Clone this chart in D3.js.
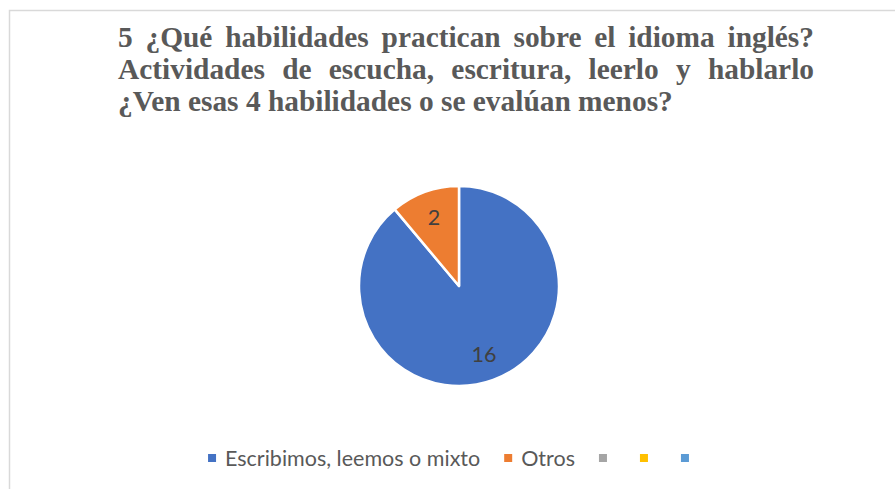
<!DOCTYPE html>
<html>
<head>
<meta charset="utf-8">
<script src="https://cdn.jsdelivr.net/npm/d3@7"></script>
<style>
  html, body { margin: 0; padding: 0; background: #fff; }
  svg { display: block; }
</style>
</head>
<body>
<svg id="chart" width="895" height="489"></svg>
<script>
  // chart data
  var titleLines = [
    "5 ¿Qué habilidades practican sobre el idioma inglés?",
    "Actividades de escucha, escritura, leerlo y hablarlo",
    "¿Ven esas 4 habilidades o se evalúan menos?"
  ];
  var categories = ["Escribimos, leemos o mixto", "Otros", "", "", ""];
  var values = [16, 2, 0, 0, 0];
  var colors = ["#4472C4", "#ED7D31", "#A5A5A5", "#FFC000", "#5B9BD5"];

  var svg = d3.select("#chart"),
      width = +svg.attr("width"),
      height = +svg.attr("height");

  // chart border (runs off the right and bottom)
  svg.append("rect")
      .attr("x", 9.5)
      .attr("y", 10.5)
      .attr("width", width + 20)
      .attr("height", height + 20)
      .attr("fill", "none")
      .attr("stroke", "#D9D9D9")
      .attr("stroke-width", 1.5);

  // title, justified like the source (last line left aligned)
  var titleLeft = 118, titleRight = 814, lastLineRight = 673, titleTop = 47, lineGap = 32;
  var title = svg.append("g")
      .attr("font-family", "'Liberation Serif', 'Times New Roman', serif")
      .attr("font-weight", "bold")
      .attr("font-size", 25)
      .attr("fill", "#595959");

  // size the serif so the unjustified last line has the source's width
  var probe = title.append("text").text(titleLines[titleLines.length - 1]);
  var fs = 25 * (lastLineRight - titleLeft) / probe.node().getComputedTextLength();
  probe.remove();
  title.attr("font-size", fs);

  titleLines.forEach(function (line, i) {
    var words = line.split(" ");
    var y = titleTop + i * lineGap;
    var nodes = words.map(function (w) {
      return title.append("text").attr("y", y).text(w);
    });
    var widths = nodes.map(function (n) { return n.node().getComputedTextLength(); });
    var total = d3.sum(widths);
    var space = fs * 0.25;
    if (i < titleLines.length - 1) {
      space = (titleRight - titleLeft - total) / (words.length - 1);
    }
    var x = titleLeft;
    nodes.forEach(function (n, j) {
      n.attr("x", x);
      x += widths[j] + space;
    });
  });

  // pie
  var cx = 459, cy = 286, radius = 100;
  var pie = d3.pie().sort(null).value(function (d) { return d.value; });
  var arc = d3.arc().innerRadius(0).outerRadius(radius);
  var labelArc = d3.arc().innerRadius(radius * 0.73).outerRadius(radius * 0.73);

  var data = categories.map(function (c, i) {
    return {name: c, value: values[i], color: colors[i]};
  });
  var arcs = pie(data).filter(function (d) { return d.data.value > 0; });

  var g = svg.append("g").attr("transform", "translate(" + cx + "," + cy + ")");

  g.selectAll(".slice")
      .data(arcs)
    .enter().append("path")
      .attr("class", "slice")
      .attr("d", arc)
      .attr("fill", function (d) { return d.data.color; })
      .attr("stroke", "#fff")
      .attr("stroke-width", 2.5)
      .attr("stroke-linejoin", "round");

  g.selectAll(".lbl")
      .data(arcs)
    .enter().append("text")
      .attr("class", "lbl")
      .attr("transform", function (d) { return "translate(" + labelArc.centroid(d) + ")"; })
      .attr("text-anchor", "middle")
      .attr("dy", "0.35em")
      .attr("font-family", "Lato, 'Open Sans', sans-serif")
      .attr("font-size", 21.5)
      .attr("fill", "#404040")
      .text(function (d) { return d.data.value; });

  // legend
  var legendY = 458, markerSize = 8, markerGap = 9, entryGap = 24;
  var legend = svg.append("g")
      .attr("font-family", "Lato, 'Open Sans', sans-serif")
      .attr("font-size", 21.5)
      .attr("fill", "#595959");

  var items = data.map(function (d) {
    var it = legend.append("g");
    it.append("rect")
        .attr("width", markerSize)
        .attr("height", markerSize)
        .attr("y", legendY - markerSize / 2)
        .attr("fill", d.color);
    var t = it.append("text")
        .attr("x", markerSize + markerGap)
        .attr("y", legendY)
        .attr("dy", "0.35em")
        .text(d.name);
    return {g: it, w: markerSize + markerGap + t.node().getComputedTextLength()};
  });

  var legendWidth = d3.sum(items, function (d) { return d.w; }) + entryGap * (items.length - 1);
  var lx = 453 - legendWidth / 2;
  items.forEach(function (it) {
    it.g.attr("transform", "translate(" + lx + ",0)");
    lx += it.w + entryGap;
  });
</script>
</body>
</html>
